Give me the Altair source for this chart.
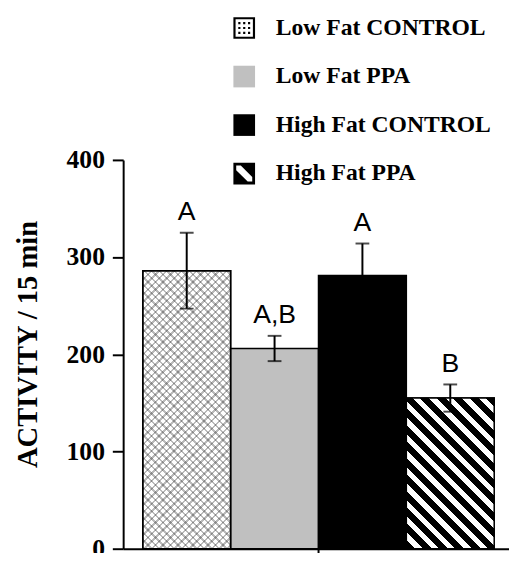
import altair as alt
import pandas as pd

# ---- data ----
groups = ["Low Fat CONTROL", "Low Fat PPA", "High Fat CONTROL", "High Fat PPA"]
means = [286, 206, 281, 155]
errors = [39, 13, 33, 14]
letters = ["A", "A,B", "A", "B"]
y_ticks = [0, 100, 200, 300, 400]

df = pd.DataFrame({"group": groups, "mean": means, "err": errors, "letter": letters})

# ---- styling / layout ----
W, H = 392, 395
TOP = 150
YMAX = 400
P_OUTER = 0.196
STEP = W / (len(groups) + 2 * P_OUTER)
PX = H / YMAX
SERIF = "Liberation Serif"
SANS = "Liberation Sans"


def stripes(w, h, period, dark_frac, c_dark, c_light, direction):
    """Linear gradient with hard stops -> 45 degree stripes on a w x h rect."""
    diag = (w + h) / 2 ** 0.5
    n = diag / period
    k = (w + h) / (w * w + h * h)
    if direction == "back":  # lines running down-right
        x1, y1, x2, y2 = 0, 1, k * w, 1 - k * h
    else:  # lines running down-left
        x1, y1, x2, y2 = 0, 0, k * w, k * h
    stops = []
    i = 0
    while i / n < 1:
        a = i / n
        b = min((i + dark_frac) / n, 1)
        c = min((i + 1) / n, 1)
        stops += [
            {"offset": round(a, 5), "color": c_dark},
            {"offset": round(b, 5), "color": c_dark},
            {"offset": round(b, 5), "color": c_light},
            {"offset": round(c, 5), "color": c_light},
        ]
        i += 1
    return {"gradient": "linear", "x1": x1, "y1": y1, "x2": round(x2, 5),
            "y2": round(y2, 5), "stops": stops}


h1 = means[0] * PX
h4 = means[3] * PX
grad_hatch = stripes(STEP, h4, 11.8, 0.55, "black", "white", "back")
grad_dot_a = stripes(STEP, h1, 5.4, 0.33, "rgba(0,0,0,0.27)", "rgba(0,0,0,0)", "back")
grad_dot_b = stripes(STEP, h1, 5.4, 0.33, "rgba(0,0,0,0.27)", "rgba(0,0,0,0)", "fwd")

# legend swatch shapes (unit square -1..1, holes drawn counter-clockwise)
SQ = "M-1,-1H1V1H-1Z"
dots = ""
for cx in (-0.45, 0, 0.45):
    for cy in (-0.45, 0, 0.45):
        dots += f"M{cx-0.1:.2f},{cy-0.1:.2f}H{cx+0.1:.2f}V{cy+0.1:.2f}H{cx-0.1:.2f}Z"
P_DOTS = SQ + "M-0.8,-0.8V0.8H0.8V-0.8Z" + dots
k, d = 0.74, 0.42
P_HATCH = SQ + (f"M{-k},{-k}L{-k},{-k+d:.2f}L{k-d:.2f},{k}L{k},{k}"
                f"L{k},{k-d:.2f}L{-k+d:.2f},{-k}Z")

x_enc = alt.X(
    "group:N", sort=groups, title=None,
    scale=alt.Scale(domain=groups, paddingInner=0, paddingOuter=P_OUTER, align=0.57),
    axis=alt.Axis(values=["High Fat CONTROL"], bandPosition=0, labels=False,
                  tickSize=8, tickWidth=2, tickColor="black",
                  domainColor="black", domainWidth=2, grid=False),
)
y_axis = alt.Axis(values=y_ticks, grid=False, labelFont=SERIF, labelFontSize=26,
                  labelFontWeight="bold", labelColor="black", labelPadding=8,
                  tickSize=11, tickWidth=2, tickColor="black",
                  domainColor="black", domainWidth=2,
                  titleFont=SERIF, titleFontSize=29, titleFontWeight="bold",
                  titleColor="black", titleX=-88, titleY=187,
                  titleBaseline="alphabetic")
y_scale = alt.Scale(domain=[0, YMAX], nice=False)
TITLE = "ACTIVITY / 15 min"


def yq(field):
    return alt.Y(field, scale=y_scale, axis=y_axis, title=TITLE)


base = alt.Chart(df)

leg = alt.Legend(orient="none", legendX=111, legendY=-146, title=None,
                 direction="vertical", symbolSize=484, symbolStrokeColor="black",
                 symbolStrokeWidth=1.2, symbolOpacity=1, labelFont=SERIF,
                 labelFontSize=24, labelFontWeight="bold", labelColor="black",
                 labelOffset=20, rowPadding=21.3, padding=0, labelLimit=400)
legend_layer = base.mark_point(filled=True, size=1).encode(
    x=x_enc, y=yq("mean:Q"),
    color=alt.Color("group:N", scale=alt.Scale(domain=groups,
                    range=["black", "#c0c0c0", "black", "black"]), legend=leg),
    shape=alt.Shape("group:N", scale=alt.Scale(domain=groups,
                    range=[P_DOTS, SQ, SQ, P_HATCH]), legend=leg),
)

bars = base.mark_bar(stroke="black", strokeWidth=1.5).encode(
    x=x_enc, y=yq("mean:Q"),
    fill=alt.Fill("group:N", scale=alt.Scale(domain=groups,
                  range=["white", "#c0c0c0", "black", "white"]), legend=None),
)
dot_a = base.transform_filter(alt.datum.group == groups[0]).mark_bar(
    fill=grad_dot_a, strokeWidth=0).encode(x=x_enc, y=yq("mean:Q"))
dot_b = base.transform_filter(alt.datum.group == groups[0]).mark_bar(
    fill=grad_dot_b, stroke="black", strokeWidth=1.5).encode(x=x_enc, y=yq("mean:Q"))
hatch = base.transform_filter(alt.datum.group == groups[3]).mark_bar(
    fill=grad_hatch, stroke="black", strokeWidth=1.5).encode(x=x_enc, y=yq("mean:Q"))

eb = base.transform_calculate(lo="datum.mean - datum.err", hi="datum.mean + datum.err")
whisk = eb.mark_rule(color="black", strokeWidth=2).encode(x=x_enc, y=yq("lo:Q"), y2="hi:Q")
cap_hi = eb.mark_tick(color="black", size=14, thickness=2).encode(x=x_enc, y=yq("hi:Q"))
cap_lo = eb.mark_tick(color="black", size=14, thickness=2).encode(x=x_enc, y=yq("lo:Q"))
txt = eb.mark_text(font=SANS, fontSize=27, baseline="alphabetic", dy=-13,
                   color="black").encode(x=x_enc, y=yq("hi:Q"), text="letter:N")

chart = alt.layer(
    legend_layer, bars, dot_a, dot_b, hatch, whisk, cap_hi, cap_lo, txt
).properties(
    width=W, height=H,
    autosize=alt.AutoSizeParams(type="none"),
    padding={"left": 117, "top": TOP, "right": 0, "bottom": 0},
).configure_view(stroke=None)

chart.save("out.html", embed_options={"renderer": "svg", "actions": False})
